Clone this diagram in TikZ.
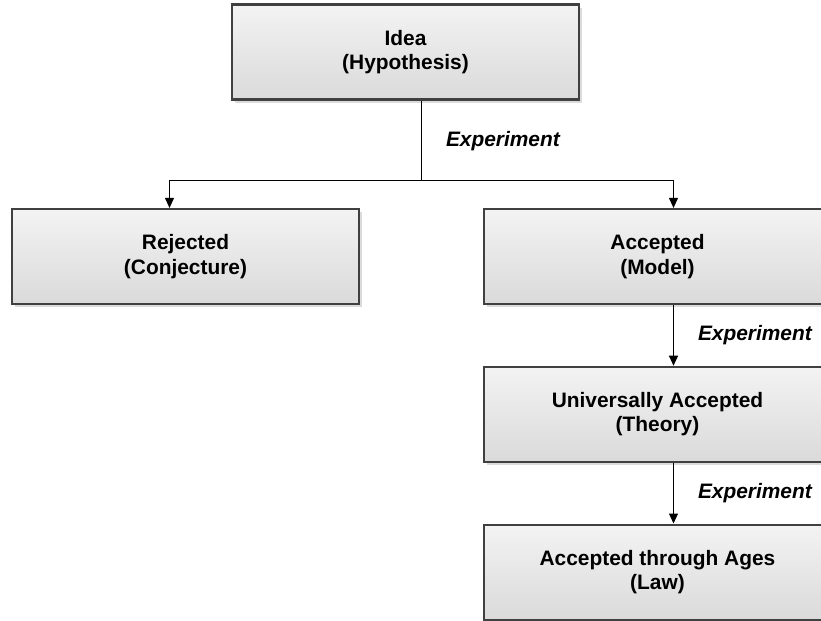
\documentclass[tikz,border=0pt]{standalone}
\usepackage{fontspec}
\setmainfont{Liberation Sans}
\usetikzlibrary{positioning,arrows.meta,shadows}
\definecolor{boxline}{HTML}{404040}
\definecolor{boxtop}{HTML}{F3F3F3}
\definecolor{boxbottom}{HTML}{DADADA}
\tikzset{
	stage/.style={draw=boxline, line width=1.1pt, top color=boxtop, bottom color=boxbottom,
		minimum width=173.5pt, minimum height=47.5pt, align=center, inner sep=0pt,
		font=\bfseries\fontsize{10.45}{12.2}\selectfont,
		drop shadow={shadow xshift=1.5pt, shadow yshift=-1.5pt, fill=black!14, opacity=1}},
	explabel/.style={font=\bfseries\itshape\fontsize{10.45}{12}\selectfont, inner sep=0pt}
}
\begin{document}
\begin{tikzpicture}[x=0.5pt, y=-0.5pt, node distance=78.9pt, >={Triangle[width=4.5pt,length=5pt]}, line width=0.5pt]
		\useasboundingbox (0,0) rectangle (821,621);
		\node[stage] (idea)     at (405.5,52)    {Idea\\(Hypothesis)};
		\node[stage] (rejected) at (185.5,256.5) {Rejected\\(Conjecture)};
		\node[stage] (accepted) at (657.5,256.5) {Accepted\\(Model)};
		\node[stage, below of=accepted] (theory) {Universally Accepted\\(Theory)};
		\node[stage, below of=theory]   (law)    {Accepted through Ages\\(Law)};
		
		\coordinate (split) at ([xshift=8pt,yshift=-40pt]idea.south);
		\draw ([xshift=8pt]idea.south) -- node[explabel, midway, right=12pt] (exp1) {Experiment} (split);
		\draw[->] (split) -| ([xshift=-8pt]rejected.north);
		\draw[->] (split) -| ([xshift=8pt]accepted.north);
		\draw[->] ([xshift=8pt]accepted.south) -- node[explabel, midway, right=12pt] (exp2) {Experiment} ([xshift=8pt]theory.north);
		\draw[->] ([xshift=8pt]theory.south) -- node[explabel, midway, right=12pt] (exp3) {Experiment} ([xshift=8pt]law.north);
	\end{tikzpicture}
\end{document}
